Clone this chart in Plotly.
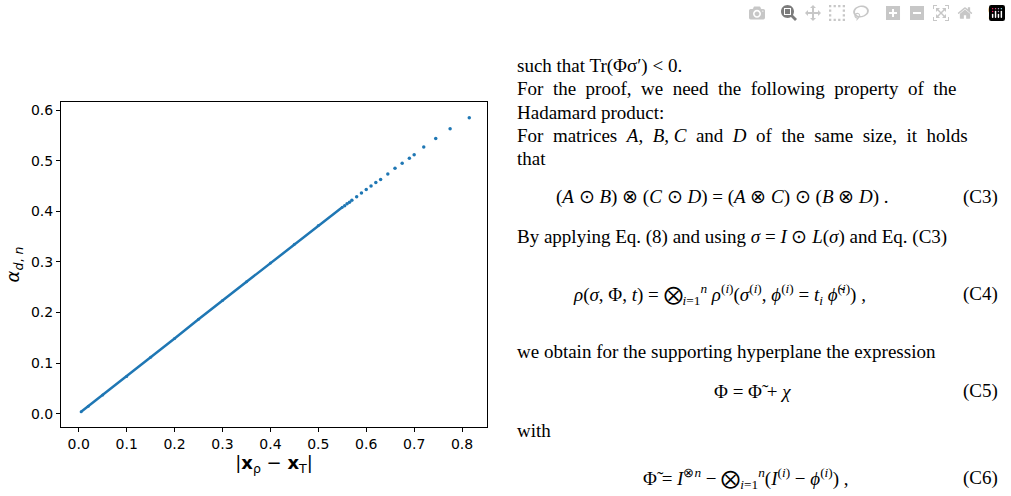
import plotly.graph_objects as go

# dense part of the data (drawn as continuous band)
dense_x = [0.005, 0.02, 0.05, 0.10, 0.15, 0.20, 0.25, 0.30, 0.35, 0.40, 0.45, 0.50, 0.55]
dense_y = [0.004, 0.015, 0.037, 0.074, 0.112, 0.149, 0.187, 0.224, 0.261, 0.298, 0.335, 0.372, 0.408]
# sparse tail points
tail_x = [0.555, 0.56, 0.565, 0.57, 0.58, 0.59, 0.60, 0.61, 0.62, 0.63, 0.645, 0.66, 0.675, 0.69, 0.70, 0.72, 0.745, 0.775, 0.815]
tail_y = [0.411, 0.415, 0.418, 0.422, 0.429, 0.436, 0.443, 0.450, 0.457, 0.463, 0.474, 0.485, 0.495, 0.505, 0.512, 0.527, 0.544, 0.563, 0.585]

xticks = [0.0, 0.1, 0.2, 0.3, 0.4, 0.5, 0.6, 0.7, 0.8]
yticks = [0.0, 0.1, 0.2, 0.3, 0.4, 0.5, 0.6]
blue = "#1f77b4"

fig = go.Figure()
fig.add_trace(go.Scatter(x=dense_x, y=dense_y, mode="lines+markers",
                         line=dict(color=blue, width=2.5), marker=dict(color=blue, size=3)))
fig.add_trace(go.Scatter(x=tail_x, y=tail_y, mode="markers", marker=dict(color=blue, size=3.5)))

ax = dict(showgrid=False, zeroline=False, showline=True, mirror=True, linecolor="black",
          ticks="outside", ticklen=4, tickcolor="black",
          tickfont=dict(family="DejaVu Sans", size=14, color="black"))
fig.update_layout(
    width=1011, height=496, margin=dict(l=57, r=524, t=102, b=69),
    plot_bgcolor="white", paper_bgcolor="white", showlegend=False,
    xaxis=dict(ax, range=[-0.037, 0.852], tickvals=xticks, tickformat=".1f",
               title=dict(text="|<b>x</b><sub>ρ</sub> − <b>x</b><sub>T</sub>|", standoff=4,
                          font=dict(family="DejaVu Sans", size=18, color="black"))),
    yaxis=dict(ax, range=[-0.026, 0.616], tickvals=yticks, tickformat=".1f",
               title=dict(text="<i>α</i><sub><i>d</i>, <i>n</i></sub>", standoff=6,
                          font=dict(family="DejaVu Sans", size=18, color="black"))),
)

serif = dict(family="Liberation Serif", size=19, color="black")
def txt(x, y, s, anchor="left"):
    fig.add_annotation(xref="paper", yref="paper", x=x, y=y, text=s, showarrow=False,
                       xanchor=anchor, yanchor="middle", font=serif)

def px(xp): return (xp - 57) / 430
def py(yp): return (427 - yp) / 325

txt(px(1005), py(12), "9", "right")
txt(px(515), py(66), "such that Tr(Φσ′) &lt; 0.")
txt(px(515), py(89), "For  the  proof,  we  need  the  following  property  of  the")
txt(px(515), py(112), "Hadamard product:")
txt(px(515), py(135), "For  matrices  <i>A</i>,  <i>B</i>, <i>C</i>  and  <i>D</i>  of  the  same  size,  it  holds")
txt(px(515), py(158), "that")
txt(px(555), py(197), "(<i>A</i> ⊙ <i>B</i>) ⊗ (<i>C</i> ⊙ <i>D</i>) = (<i>A</i> ⊗ <i>C</i>) ⊙ (<i>B</i> ⊗ <i>D</i>) .")
txt(px(1005), py(197), "(C3)", "right")
txt(px(515), py(237), "By applying Eq. (8) and using <i>σ</i> = <i>I</i> ⊙ <i>L</i>(<i>σ</i>) and Eq. (C3)")
txt(px(572), py(294), "<i>ρ</i>(<i>σ</i>, Φ, <i>t</i>) = ⨂<sub><i>i</i>=1</sub><sup><i>n</i></sup> <i>ρ</i><sup>(<i>i</i>)</sup>(<i>σ</i><sup>(<i>i</i>)</sup>, <i>ϕ</i><sup>(<i>i</i>)</sup> = <i>t<sub>i</sub></i> <i>ϕ̃</i><sup>(<i>i</i>)</sup>) ,")
txt(px(1005), py(294), "(C4)", "right")
txt(px(515), py(351), "we obtain for the supporting hyperplane the expression")
txt(px(714), py(391), "Φ = Φ̃ + <i>χ</i>")
txt(px(1005), py(391), "(C5)", "right")
txt(px(515), py(430), "with")
txt(px(642), py(478), "Φ̃ = <i>I</i><sup>⊗<i>n</i></sup> − ⨂<sub><i>i</i>=1</sub><sup><i>n</i></sup>(<i>I</i><sup>(<i>i</i>)</sup> − <i>ϕ</i><sup>(<i>i</i>)</sup>) ,")
txt(px(1005), py(478), "(C6)", "right")

fig.write_html("out.html")
with open("out.html", encoding="utf-8") as f:
    html = f.read()
html = html.replace("<body>", '<body style="margin:0;padding:0">', 1)
with open("out.html", "w", encoding="utf-8") as f:
    f.write(html)
